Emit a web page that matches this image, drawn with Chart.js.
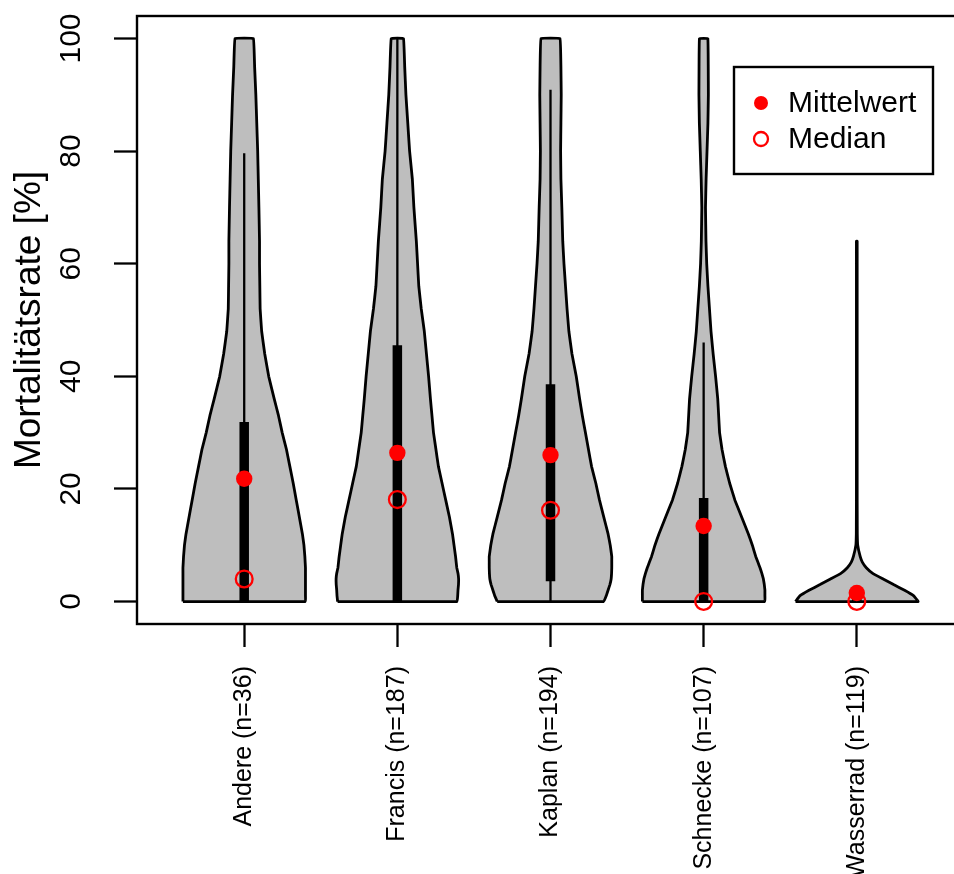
<!DOCTYPE html>
<html>
<head>
<meta charset="utf-8">
<script src="https://cdn.jsdelivr.net/npm/chart.js@4"></script>
<style>
  html, body { margin: 0; padding: 0; background: #fff; overflow: hidden; width: 954px; height: 874px; }
  canvas { display: block; }
</style>
</head>
<body>
<canvas id="c" width="980" height="874"></canvas>
<script>
// ---- data ----
const categories = ['Andere (n=36)', 'Francis (n=187)', 'Kaplan (n=194)', 'Schnecke (n=107)', 'Wasserrad (n=119)'];
const yTicks = [0, 20, 40, 60, 80, 100];
const legendLabels = ['Mittelwert', 'Median'];

// values (%) at which the violin densities were read
const densityLevels = [0, 1, 2, 3, 4, 5, 6, 7, 8, 10, 12, 15, 18, 21, 24, 27, 30, 33, 36, 40, 44, 48, 52, 56, 60, 64, 70, 75, 80, 85, 90, 95, 100];
// relative density (1 = widest point of each violin)
const densityAndere = [1.00, 1.00, 1.00, 1.00, 1.00, 1.00, 1.00, 0.995, 0.99, 0.975, 0.95, 0.90, 0.85, 0.80, 0.745, 0.69, 0.62, 0.56, 0.49, 0.40, 0.335, 0.285, 0.26, 0.255, 0.25, 0.25, 0.24, 0.23, 0.22, 0.205, 0.19, 0.17, 0.15];
const densityFrancis = [0.975, 0.985, 0.99, 0.998, 1.00, 0.99, 0.97, 0.96, 0.95, 0.925, 0.90, 0.85, 0.79, 0.73, 0.67, 0.63, 0.59, 0.565, 0.54, 0.51, 0.475, 0.44, 0.39, 0.35, 0.33, 0.31, 0.27, 0.245, 0.20, 0.17, 0.14, 0.12, 0.10];
const densityKaplan = [0.87, 0.91, 0.94, 0.97, 0.99, 0.997, 1.00, 1.00, 1.00, 0.975, 0.94, 0.87, 0.80, 0.74, 0.67, 0.62, 0.57, 0.52, 0.475, 0.42, 0.35, 0.30, 0.27, 0.245, 0.22, 0.20, 0.185, 0.17, 0.165, 0.17, 0.175, 0.17, 0.155];
const densitySchnecke = [1.00, 1.00, 1.00, 0.99, 0.975, 0.95, 0.92, 0.885, 0.85, 0.795, 0.73, 0.62, 0.51, 0.425, 0.355, 0.30, 0.26, 0.245, 0.23, 0.195, 0.155, 0.12, 0.095, 0.07, 0.05, 0.038, 0.03, 0.04, 0.055, 0.07, 0.077, 0.075, 0.068];
const densityWasserrad = [1.00, 0.93, 0.78, 0.60, 0.43, 0.26, 0.155, 0.09, 0.055, 0.015, 0.008, 0.007, 0.006, 0.006, 0.006, 0.006, 0.006, 0.006, 0.006, 0.006, 0.006, 0.006, 0.006, 0.006, 0.006, 0.006, null, null, null, null, null, null, null];

const meanValues   = [21.8, 26.4, 26.0, 13.4, 1.5];
const medianValues = [4.0, 18.1, 16.2, 0.0, 0.0];
const q1Values     = [0.0, 0.0, 3.6, 0.0, 0.0];
const q3Values     = [31.9, 45.5, 38.6, 18.4, 0.8];
const whiskerLow   = [0.0, 0.0, 0.0, 0.0, 0.0];
const whiskerHigh  = [79.6, 100.0, 90.9, 46.0, 2.0];

// ---- building ----
const densities = [densityAndere, densityFrancis, densityKaplan, densitySchnecke, densityWasserrad];
const HALF = 0.4; // widest half-width in category units
const FONT = "'Liberation Sans', Arial, Helvetica, sans-serif";
const RED = '#FF0000';

function violinPoints(center, dens) {
  const left = [], right = [];
  densityLevels.forEach((y, k) => {
    const d = dens[k];
    if (d === null || d === undefined) return;
    left.push({ x: center - d * HALF, y: y });
    right.push({ x: center + d * HALF, y: y });
  });
  return left.concat(right.reverse(), [left[0]]);
}

const datasets = [];
densities.forEach((dens, i) => {
  datasets.push({
    label: 'violin ' + categories[i],
    data: violinPoints(i + 1, dens),
    showLine: true, fill: 'shape', tension: 0.05,
    backgroundColor: '#BEBEBE', borderColor: '#000', borderWidth: 2.8, borderJoinStyle: 'round',
    pointRadius: 0, order: 5
  });
  datasets.push({
    label: 'whisker ' + categories[i],
    data: [{ x: i + 1, y: whiskerLow[i] }, { x: i + 1, y: whiskerHigh[i] }],
    showLine: true, tension: 0.05, borderColor: '#000', borderWidth: 2.3, pointRadius: 0, order: 4
  });
  datasets.push({
    label: 'box ' + categories[i],
    data: [{ x: i + 1, y: q1Values[i] }, { x: i + 1, y: q3Values[i] }],
    showLine: true, tension: 0.05, borderColor: '#000', borderWidth: 9.5, borderCapStyle: 'butt', pointRadius: 0, order: 3
  });
});
datasets.push({
  label: legendLabels[0],
  data: meanValues.map((v, i) => ({ x: i + 1, y: v })),
  pointRadius: 8.2, pointBackgroundColor: RED, pointBorderColor: RED, pointBorderWidth: 0, order: 2
});
datasets.push({
  label: legendLabels[1],
  data: medianValues.map((v, i) => ({ x: i + 1, y: v })),
  pointRadius: 8.4, pointBackgroundColor: 'rgba(0,0,0,0)', pointBorderColor: RED, pointBorderWidth: 2.3, order: 1
});

const framePlugin = {
  id: 'frameAndLegend',
  beforeDatasetsDraw(chart) {
    const { ctx, chartArea: a } = chart;
    ctx.save();
    ctx.strokeStyle = '#000';
    ctx.lineWidth = 2.4;
    ctx.strokeRect(a.left, a.top, a.right - a.left, a.bottom - a.top);
    ctx.restore();
  },
  afterDraw(chart) {
    const { ctx, chartArea: a } = chart;
    const bx = a.right - 230, by = a.top + 51, bw = 199, bh = 107;
    ctx.save();
    ctx.fillStyle = '#fff';
    ctx.fillRect(bx, by, bw, bh);
    ctx.strokeStyle = '#000';
    ctx.lineWidth = 2.4;
    ctx.strokeRect(bx, by, bw, bh);
    ctx.font = '30px ' + FONT;
    ctx.textBaseline = 'middle';
    ctx.textAlign = 'left';
    const rows = [by + 36, by + 72];
    ctx.beginPath();
    ctx.arc(bx + 27, rows[0], 7, 0, Math.PI * 2);
    ctx.fillStyle = RED; ctx.fill();
    ctx.beginPath();
    ctx.arc(bx + 27, rows[1], 7, 0, Math.PI * 2);
    ctx.strokeStyle = RED; ctx.lineWidth = 2.3; ctx.stroke();
    ctx.fillStyle = '#000';
    ctx.fillText(legendLabels[0], bx + 54, rows[0] + 1);
    ctx.fillText(legendLabels[1], bx + 54, rows[1] + 1);
    ctx.restore();
  }
};

new Chart(document.getElementById('c'), {
  type: 'scatter',
  data: { datasets: datasets },
  plugins: [framePlugin],
  options: {
    responsive: false,
    animation: false,
    devicePixelRatio: 1,
    layout: { padding: { top: 16, right: 16, left: 0, bottom: 0 } },
    plugins: { legend: { display: false }, tooltip: { enabled: false } },
    scales: {
      x: {
        type: 'linear', min: 0.3, max: 5.7,
        afterBuildTicks: (s) => { s.ticks = categories.map((c, i) => ({ value: i + 1 })); },
        afterFit: (s) => { s.height = 250; s.paddingLeft = 0; s.paddingRight = 0; },
        border: { display: false },
        grid: { drawOnChartArea: false, drawTicks: true, tickLength: 23, tickWidth: 2.3, tickColor: '#000' },
        ticks: {
          autoSkip: false, minRotation: 90, maxRotation: 90, padding: 19, color: '#000',
          font: { size: 25, family: FONT },
          callback: (v) => categories[Math.round(v) - 1]
        }
      },
      y: {
        type: 'linear', min: -4, max: 104,
        afterBuildTicks: (s) => { s.ticks = yTicks.map(v => ({ value: v })); },
        afterFit: (s) => { s.width = 137; s.paddingTop = 0; s.paddingBottom = 0; },
        border: { display: false },
        grid: { drawOnChartArea: false, drawTicks: true, tickLength: 23, tickWidth: 2.3, tickColor: '#000' },
        ticks: {
          minRotation: 90, maxRotation: 90, crossAlign: 'center', padding: 17, color: '#000',
          font: { size: 30, family: FONT }
        },
        title: {
          display: true, text: 'Mortalitätsrate [%]', color: '#000',
          font: { size: 37, family: FONT }, padding: { top: 8, bottom: 0 }
        }
      }
    }
  }
});
</script>
</body>
</html>
